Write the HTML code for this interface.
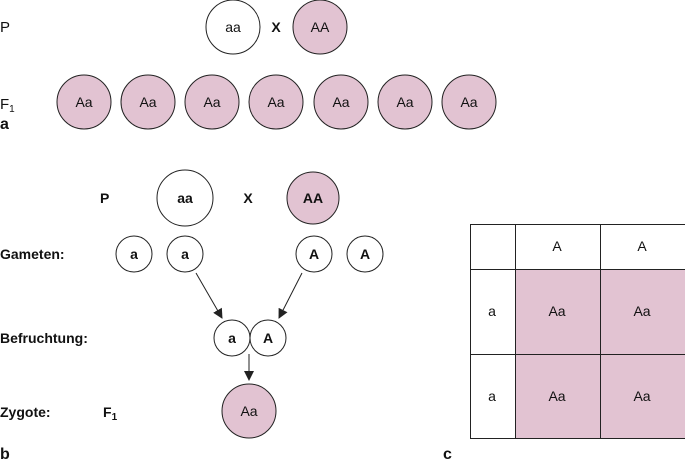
<!DOCTYPE html>
<html><head><style>
html,body{margin:0;padding:0;background:#fff;}
svg{display:block;}
text{font-family:"Liberation Sans",sans-serif;fill:#111;}
</style></head><body>
<svg width="685" height="463" viewBox="0 0 685 463">
<defs><marker id="ar" markerWidth="10" markerHeight="10" refX="9" refY="5" orient="auto" markerUnits="userSpaceOnUse"><path d="M0,0 L10,5 L0,10 z" fill="#222"/></marker></defs>
<g stroke="#222" stroke-width="1">
<circle cx="233" cy="27" r="27" fill="#fff"/>
<circle cx="320" cy="27" r="27" fill="#e2c3d2"/>
<circle cx="84" cy="102" r="27" fill="#e2c3d2"/>
<circle cx="148" cy="102" r="27" fill="#e2c3d2"/>
<circle cx="212" cy="102" r="27" fill="#e2c3d2"/>
<circle cx="276" cy="102" r="27" fill="#e2c3d2"/>
<circle cx="341" cy="102" r="27" fill="#e2c3d2"/>
<circle cx="405" cy="102" r="27" fill="#e2c3d2"/>
<circle cx="469" cy="102" r="27" fill="#e2c3d2"/>
<circle cx="185" cy="198" r="28" fill="#fff"/>
<circle cx="313" cy="198" r="26" fill="#e2c3d2"/>
<circle cx="134" cy="254" r="18" fill="#fff"/>
<circle cx="185" cy="254" r="18" fill="#fff"/>
<circle cx="314" cy="254" r="18" fill="#fff"/>
<circle cx="365" cy="254" r="18" fill="#fff"/>
<circle cx="232" cy="338" r="18" fill="#fff"/>
<circle cx="268" cy="338" r="18" fill="#fff"/>
<circle cx="249" cy="411" r="27" fill="#e2c3d2"/>
<line x1="196" y1="273" x2="222" y2="318" marker-end="url(#ar)"/>
<line x1="302" y1="273" x2="279" y2="318" marker-end="url(#ar)"/>
<line x1="249" y1="354" x2="249" y2="380" marker-end="url(#ar)"/>
<rect x="515" y="269" width="170" height="169" fill="#e2c3d2" stroke="none"/>
<rect x="470.5" y="224.5" width="220" height="214" fill="none"/>
<line x1="515.5" y1="224" x2="515.5" y2="438"/>
<line x1="600.5" y1="224" x2="600.5" y2="438"/>
<line x1="470" y1="269.5" x2="685" y2="269.5"/>
<line x1="470" y1="354.5" x2="685" y2="354.5"/>
</g>
<g font-size="14" text-anchor="middle">
<text x="233" y="32">aa</text><text x="320" y="32">AA</text>
<text x="84" y="107">Aa</text><text x="148" y="107">Aa</text><text x="212" y="107">Aa</text><text x="276" y="107">Aa</text><text x="341" y="107">Aa</text><text x="405" y="107">Aa</text><text x="469" y="107">Aa</text>
<text x="249" y="416">Aa</text>
<text x="557" y="251">A</text><text x="642" y="251">A</text>
<text x="492" y="316">a</text><text x="557" y="316">Aa</text><text x="642" y="316">Aa</text>
<text x="492" y="401">a</text><text x="557" y="401">Aa</text><text x="642" y="401">Aa</text>
</g>
<g font-size="14" font-weight="bold" text-anchor="middle">
<text x="276" y="32">X</text>
<text x="185" y="203">aa</text><text x="313" y="203">AA</text><text x="248" y="203">X</text>
<text x="134" y="259">a</text><text x="185" y="259">a</text><text x="314" y="259">A</text><text x="365" y="259">A</text>
<text x="232" y="343">a</text><text x="268" y="343">A</text>
</g>
<text x="0" y="32" font-size="15">P</text>
<text x="0" y="109" font-size="15">F<tspan font-size="10" dy="3">1</tspan></text>
<text x="0" y="129" font-size="16" font-weight="bold">a</text>
<g font-size="14" font-weight="bold">
<text x="100" y="203">P</text>
<text x="0" y="259">Gameten:</text>
<text x="0" y="343">Befruchtung:</text>
<text x="0" y="417">Zygote:</text>
<text x="103" y="417">F<tspan font-size="10" dy="3">1</tspan></text>
</g>
<text x="0" y="459" font-size="16" font-weight="bold">b</text>
<text x="443" y="459" font-size="16" font-weight="bold">c</text>
</svg>
</body></html>
